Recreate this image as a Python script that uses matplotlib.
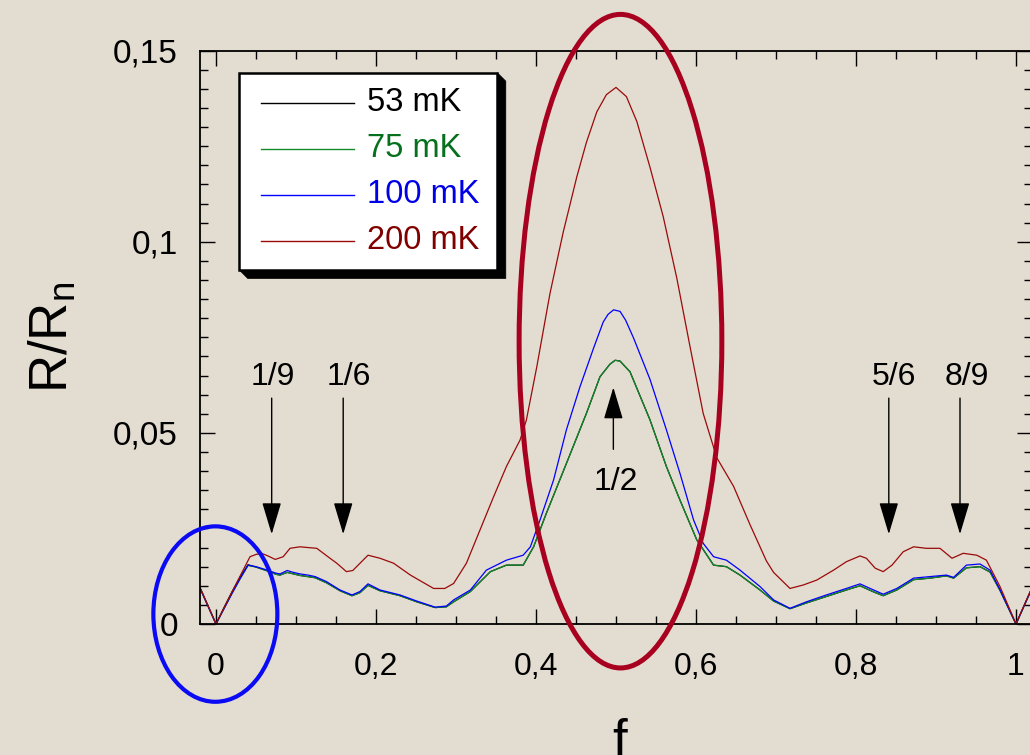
import matplotlib
matplotlib.use("Agg")
import matplotlib.pyplot as plt
from matplotlib.patches import Ellipse, Polygon, Rectangle
from matplotlib.lines import Line2D
from matplotlib.ticker import MultipleLocator, FuncFormatter

plt.rcParams['font.family'] = ['Liberation Sans', 'DejaVu Sans']
plt.rcParams['mathtext.fontset'] = 'custom'
plt.rcParams['mathtext.rm'] = 'Liberation Sans'
plt.rcParams['mathtext.it'] = 'Liberation Sans:italic'

# ---------------- data ----------------
series_labels = ['53 mK', '75 mK', '100 mK', '200 mK']
line_colors = ['#000000', '#128a2a', '#0000ff', '#9a0a0a']
text_colors = ['#000000', '#06701e', '#0000e8', '#800000']

f_53 = [-0.020, -0.010, 0.000, 0.010, 0.020, 0.030, 0.040, 0.050, 0.064, 0.075,
        0.080, 0.089, 0.095, 0.105, 0.115, 0.124, 0.138, 0.155, 0.170, 0.180,
        0.190, 0.205, 0.230, 0.251, 0.274, 0.288, 0.297, 0.318, 0.343, 0.363,
        0.384, 0.397, 0.413, 0.438, 0.463, 0.480, 0.4925, 0.499, 0.505, 0.5175,
        0.5425, 0.563, 0.580, 0.601, 0.622, 0.638, 0.655, 0.680, 0.697, 0.7175,
        0.738, 0.763, 0.788, 0.805, 0.822, 0.834, 0.851, 0.872, 0.8925, 0.913,
        0.922, 0.938, 0.955, 0.9675, 0.980, 1.000, 1.020]
r_53 = [0.0094, 0.0047, 0.0, 0.0043, 0.0084, 0.0122, 0.0155, 0.0149, 0.0139, 0.0130,
        0.0128, 0.0135, 0.0132, 0.0127, 0.0124, 0.0121, 0.0108, 0.0087, 0.0074, 0.0082,
        0.0101, 0.0087, 0.0074, 0.0058, 0.0043, 0.0045, 0.0058, 0.0085, 0.0137, 0.0154,
        0.0154, 0.0202, 0.0290, 0.0420, 0.0551, 0.0647, 0.0680, 0.0690, 0.0688, 0.0660,
        0.0534, 0.0412, 0.0324, 0.0220, 0.0154, 0.0150, 0.0128, 0.0089, 0.0060, 0.0040,
        0.0055, 0.0072, 0.0089, 0.0100, 0.0084, 0.0074, 0.0089, 0.0116, 0.0120, 0.0126,
        0.0120, 0.0147, 0.0150, 0.0136, 0.0088, 0.0, 0.0094]

f_75 = [-0.020, -0.010, 0.000, 0.010, 0.020, 0.030, 0.040, 0.050, 0.064, 0.075,
        0.080, 0.089, 0.095, 0.105, 0.115, 0.124, 0.138, 0.155, 0.170, 0.180,
        0.190, 0.205, 0.230, 0.251, 0.274, 0.288, 0.297, 0.318, 0.343, 0.363,
        0.384, 0.397, 0.413, 0.438, 0.463, 0.480, 0.4925, 0.499, 0.505, 0.5175,
        0.5425, 0.563, 0.580, 0.601, 0.622, 0.638, 0.655, 0.680, 0.697, 0.7175,
        0.738, 0.763, 0.788, 0.805, 0.822, 0.834, 0.851, 0.872, 0.8925, 0.913,
        0.922, 0.938, 0.955, 0.9675, 0.980, 1.000, 1.020]
r_75 = [0.0094, 0.0047, 0.0, 0.0040, 0.0080, 0.0118, 0.0153, 0.0149, 0.0139, 0.0130,
        0.0128, 0.0135, 0.0132, 0.0127, 0.0124, 0.0121, 0.0108, 0.0087, 0.0074, 0.0082,
        0.0101, 0.0087, 0.0074, 0.0058, 0.0043, 0.0045, 0.0058, 0.0085, 0.0137, 0.0154,
        0.0154, 0.0202, 0.0290, 0.0420, 0.0551, 0.0647, 0.0680, 0.0690, 0.0688, 0.0660,
        0.0534, 0.0412, 0.0324, 0.0220, 0.0154, 0.0150, 0.0128, 0.0089, 0.0060, 0.0040,
        0.0055, 0.0072, 0.0089, 0.0100, 0.0084, 0.0074, 0.0089, 0.0116, 0.0120, 0.0126,
        0.0120, 0.0147, 0.0150, 0.0136, 0.0088, 0.0, 0.0094]

f_100 = [-0.020, -0.010, 0.000, 0.010, 0.020, 0.030, 0.040, 0.050, 0.064, 0.075,
         0.080, 0.089, 0.095, 0.105, 0.115, 0.124, 0.138, 0.155, 0.170, 0.180,
         0.190, 0.205, 0.230, 0.251, 0.274, 0.288, 0.297, 0.318, 0.338, 0.363,
         0.384, 0.393, 0.405, 0.422, 0.438, 0.455, 0.472, 0.484, 0.490, 0.497,
         0.505, 0.512, 0.522, 0.5425, 0.563, 0.580, 0.597, 0.609, 0.622, 0.638,
         0.655, 0.680, 0.697, 0.7175, 0.738, 0.763, 0.788, 0.805, 0.822, 0.834,
         0.851, 0.872, 0.8925, 0.913, 0.922, 0.938, 0.955, 0.9675, 0.980, 1.000,
         1.020]
r_100 = [0.0094, 0.0047, 0.0, 0.0040, 0.0080, 0.0118, 0.0154, 0.0150, 0.0141, 0.0133,
         0.0131, 0.0140, 0.0136, 0.0131, 0.0128, 0.0124, 0.0111, 0.0089, 0.0076, 0.0085,
         0.0105, 0.0089, 0.0076, 0.0060, 0.0044, 0.0047, 0.0063, 0.0089, 0.0141, 0.0167,
         0.0180, 0.0202, 0.0272, 0.0377, 0.0508, 0.0621, 0.0722, 0.0790, 0.0810, 0.0822,
         0.0818, 0.0795, 0.0748, 0.0640, 0.0508, 0.0394, 0.0272, 0.0211, 0.0176, 0.0167,
         0.0141, 0.0098, 0.0063, 0.0041, 0.0058, 0.0076, 0.0093, 0.0105, 0.0089, 0.0078,
         0.0093, 0.0120, 0.0124, 0.0128, 0.0122, 0.0154, 0.0157, 0.0141, 0.0090, 0.0,
         0.0094]

f_200 = [-0.020, -0.010, 0.000, 0.010, 0.020, 0.030, 0.0425, 0.050, 0.057, 0.065,
         0.074, 0.084, 0.0925, 0.105, 0.115, 0.126, 0.1425, 0.151, 0.163, 0.171,
         0.190, 0.205, 0.222, 0.243, 0.272, 0.286, 0.297, 0.313, 0.330, 0.347,
         0.363, 0.380, 0.388, 0.401, 0.413, 0.4175, 0.434, 0.451, 0.463, 0.476,
         0.488, 0.500, 0.513, 0.526, 0.5425, 0.559, 0.576, 0.5925, 0.609, 0.626,
         0.647, 0.6675, 0.688, 0.697, 0.7175, 0.734, 0.751, 0.772, 0.788, 0.805,
         0.813, 0.824, 0.834, 0.845, 0.859, 0.872, 0.888, 0.905, 0.920, 0.934,
         0.951, 0.963, 0.980, 1.000, 1.020]
r_200 = [0.0096, 0.0048, 0.0, 0.0042, 0.0084, 0.0125, 0.0176, 0.0182, 0.0185, 0.0178,
         0.0169, 0.0176, 0.0198, 0.0202, 0.0200, 0.0198, 0.0172, 0.0159, 0.0137, 0.0140,
         0.0180, 0.0172, 0.0159, 0.0128, 0.0093, 0.0093, 0.0106, 0.0159, 0.0246, 0.0333,
         0.0412, 0.0481, 0.0534, 0.0673, 0.0813, 0.0865, 0.1025, 0.1170, 0.1260, 0.1340,
         0.1385, 0.1404, 0.1380, 0.1315, 0.1195, 0.1066, 0.0905, 0.0726, 0.0551, 0.0435,
         0.0360, 0.0260, 0.0165, 0.0135, 0.0093, 0.0102, 0.0115, 0.0141, 0.0163, 0.0178,
         0.0172, 0.0146, 0.0137, 0.0154, 0.0189, 0.0202, 0.0198, 0.0198, 0.0172, 0.0185,
         0.0180, 0.0167, 0.0098, 0.0, 0.0096]

# arrow annotations
down_labels = ['1/9', '1/6', '5/6', '8/9']
down_x = [0.0696, 0.159, 0.841, 0.930]
down_label_x = [0.0706, 0.166, 0.847, 0.939]
up_label = '1/2'
up_x = 0.4967
up_label_x = 0.4996

# ---------------- figure ----------------
W, H = 1030, 755
bg = '#e3dcd0'
fig = plt.figure(figsize=(W / 100, H / 100), dpi=100)
fig.patch.set_facecolor(bg)

ax = fig.add_axes([200 / W, 131 / H, 832 / W, 573.3 / H])
ax.set_facecolor('none')
ax.set_xlim(-0.02, 1.02)
ax.set_ylim(0, 0.15)

xs = [f_53, f_75, f_100, f_200]
ys = [r_53, r_75, r_100, r_200]
for x, y, c, lab in zip(xs, ys, line_colors, series_labels):
    ax.plot(x, y, color=c, lw=0.9, label=lab)

for s in ax.spines.values():
    s.set_linewidth(1.3)
ax.xaxis.set_major_locator(MultipleLocator(0.2))
ax.xaxis.set_minor_locator(MultipleLocator(0.05))
ax.yaxis.set_major_locator(MultipleLocator(0.05))
ax.yaxis.set_minor_locator(MultipleLocator(0.005))
fmt = FuncFormatter(lambda v, p: ('%g' % round(v, 4)).replace('.', ','))
ax.xaxis.set_major_formatter(fmt)
ax.yaxis.set_major_formatter(fmt)
ax.tick_params(which='both', direction='in', top=True, right=True, width=1.0)
ax.tick_params(which='major', length=11)
ax.tick_params(which='minor', length=5.5)
ax.tick_params(axis='x', which='major', labelsize=23, pad=20)
ax.tick_params(axis='y', which='major', labelsize=24, pad=16)

# ellipses
ax.add_patch(Ellipse((-0.0008, 0.0026), 0.155, 0.0459, fill=False,
                     ec='#0a0af5', lw=3.0, clip_on=False, zorder=5))
ax.add_patch(Ellipse((0.5056, 0.074), 0.2534, 0.171, fill=False,
                     ec='#a8001f', lw=3.6, clip_on=False, zorder=5))

# arrows
aprops = dict(arrowstyle='-|>,head_length=20,head_width=6', mutation_scale=1,
              lw=1.0, color='black', shrinkA=0, shrinkB=0)
for lab, xa, xl in zip(down_labels, down_x, down_label_x):
    ax.annotate('', xy=(xa, 0.0235), xytext=(xa, 0.0591), arrowprops=aprops)
    ax.text(xl, 0.0646, lab, ha='center', va='center', fontsize=23)
ax.annotate('', xy=(up_x, 0.0619), xytext=(up_x, 0.0457), arrowprops=aprops)
ax.text(up_label_x, 0.0372, up_label, ha='center', va='center', fontsize=23)

# axis labels
fig.text(53 / W, 1 - 337 / H, r'R/R$_\mathregular{n}$', rotation=90,
         ha='center', va='center', fontsize=38)
fig.text(620 / W, 1 - 718 / H, 'f', ha='center', va='top', fontsize=38)

# legend (drawn by hand with a 3D shadow)
def P(x, y):
    return (x / W, 1 - y / H)

bx0, by0, bx1, by1 = 239.3, 72.7, 497.3, 270.0
d = 8.5
shadow = Polygon([P(bx1, by0), P(bx1 + d, by0 + d), P(bx1 + d, by1 + d),
                  P(bx0 + d, by1 + d), P(bx0, by1), P(bx1, by1)],
                 closed=True, transform=fig.transFigure, fc='black', ec='black',
                 lw=0.5, zorder=10)
fig.add_artist(shadow)
box = Rectangle(P(bx0, by1), (bx1 - bx0) / W, (by1 - by0) / H,
                transform=fig.transFigure, fc='white', ec='black', lw=1.8, zorder=11)
fig.add_artist(box)
ly = [102.7, 148.7, 194.7, 240.7]
for lab, lc, tc, yy in zip(series_labels, line_colors, text_colors, ly):
    fig.add_artist(Line2D([261 / W, 354 / W], [1 - yy / H, 1 - yy / H], color=lc,
                          lw=1.0, transform=fig.transFigure, zorder=12))
    fig.text(367 / W, 1 - yy / H, lab, color=tc, fontsize=23.5, ha='left',
             va='center', zorder=12)

fig.savefig('out.png', dpi=100, facecolor=bg)
